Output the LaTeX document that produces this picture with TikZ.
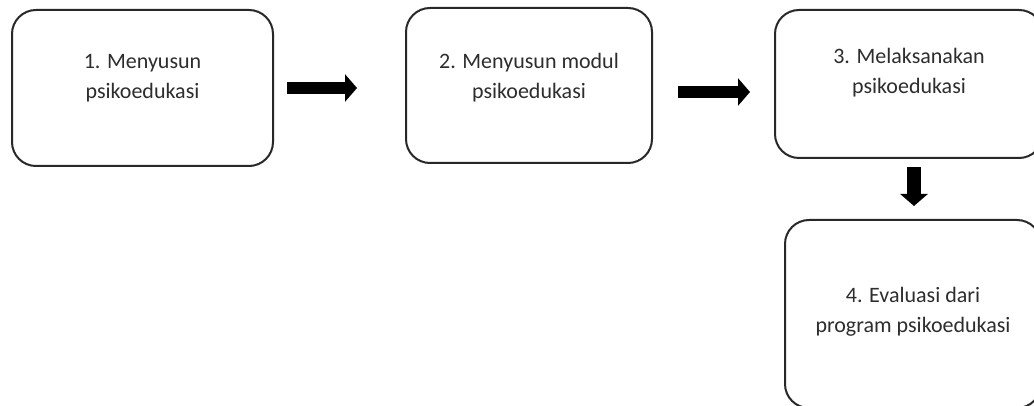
\documentclass[tikz,border=0pt]{standalone}
\usepackage{fontspec}
\setmainfont{Carlito}
\usetikzlibrary{arrows.meta,calc}
\definecolor{box_line}{RGB}{40,40,40}
\definecolor{box_text}{RGB}{45,45,45}
\tikzstyle{box}=[rectangle,rounded corners=12pt,draw=box_line,line width=1pt,fill=white]
\tikzstyle{txt}=[align=center,text=box_text,inner sep=0pt,
  font=\fontsize{11pt}{15pt}\selectfont]
\tikzstyle{blk}=[line width=6pt,-{Triangle[width=13.5pt,length=6pt]}]
\tikzstyle{none}=[]

\begin{document}
\begin{tikzpicture}[x=0.5pt,y=-0.5pt]
            \useasboundingbox (0,0) rectangle (1034,406);
            \clip (0,0) rectangle (1034,406);
            \node [style=box,minimum width=130.5pt,minimum height=78pt] (0) at (142.5,88) {};
            \node [style=box,minimum width=123pt,minimum height=77.5pt] (1) at (529,85.5) {};
            \node [style=box,minimum width=134pt,minimum height=74pt] (2) at (909,84) {};
            \node [style=box,minimum width=128pt,minimum height=94pt] (3) at (913,314) {};
            \node [style=txt] (4) at ([yshift=5pt]0.center) {1. Menyusun\\psikoedukasi};
            \node [style=txt] (5) at ([yshift=4pt]1.center) {2. Menyusun modul\\psikoedukasi};
            \node [style=txt] (6) at ([yshift=5.5pt]2.center) {3. Melaksanakan\\psikoedukasi};
            \node [style=txt] (7) at ([yshift=1pt]3.center) {4. Evaluasi dari\\program psikoedukasi};
            \draw [style=blk,shorten <=6.5pt,shorten >=24pt] (0.east) to (0.east -| 1.west);
            \draw [style=blk,shorten <=12.5pt,shorten >=12pt] ([yshift=-3.25pt]1.east) to ([yshift=-3.25pt]1.east -| 2.west);
            \draw [style=blk,line width=7pt,shorten <=4pt,shorten >=6.5pt] ([xshift=2.5pt]2.south) to ([xshift=2.5pt]2.south |- 3.north);
    \end{tikzpicture}
\end{document}
